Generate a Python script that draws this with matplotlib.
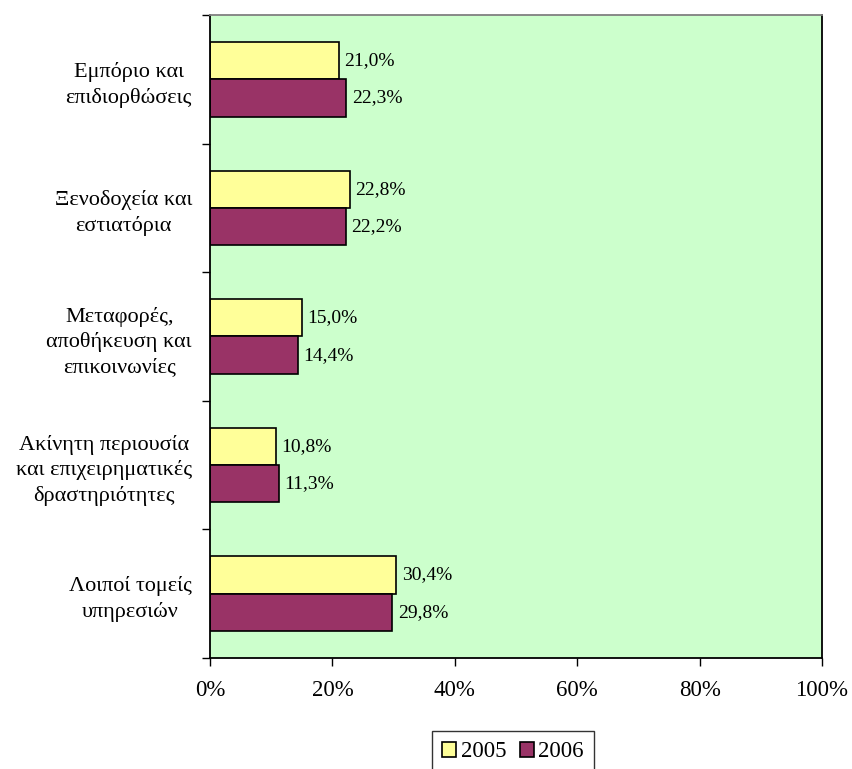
import matplotlib
matplotlib.use("Agg")
import matplotlib.pyplot as plt
import numpy as np
from matplotlib.ticker import FixedLocator, PercentFormatter

categories = [
    "Εμπόριο και\nεπιδιορθώσεις",
    "Ξενοδοχεία και\nεστιατόρια",
    "Μεταφορές,\nαποθήκευση και\nεπικοινωνίες",
    "Ακίνητη περιουσία\nκαι επιχειρηματικές\nδραστηριότητες",
    "Λοιποί τομείς\nυπηρεσιών",
]
series_names = ["2005", "2006"]
values_2005 = [21.0, 22.8, 15.0, 10.8, 30.4]
values_2006 = [22.3, 22.2, 14.4, 11.3, 29.8]
xticks = [0, 20, 40, 60, 80, 100]

plt.rcParams['font.family'] = ['Liberation Serif', 'DejaVu Serif']

W, H = 853, 769
fig = plt.figure(figsize=(W / 100, H / 100), dpi=100)
ax = fig.add_axes([210 / W, 1 - 658 / H, (822 - 210) / W, (658 - 15) / H])
ax.set_facecolor("#CCFFCC")

n = len(categories)
y = np.arange(n)
bh = 0.29
b1 = ax.barh(y - bh / 2, values_2005, height=bh, color="#FFFF99",
             edgecolor="black", linewidth=1.2, label=series_names[0])
b2 = ax.barh(y + bh / 2, values_2006, height=bh, color="#993366",
             edgecolor="black", linewidth=1.2, label=series_names[1])

for bars, vals in ((b1, values_2005), (b2, values_2006)):
    for rect, v in zip(bars, vals):
        ax.annotate(f"{v:.1f}%".replace(".", ","),
                    (rect.get_width(), rect.get_y() + rect.get_height() / 2),
                    xytext=(4, 0), textcoords="offset points",
                    ha="left", va="center", fontsize=14)

ax.set_xlim(0, 100)
ax.set_ylim(n - 0.5, -0.5)
ax.set_xticks(xticks)
ax.xaxis.set_major_formatter(PercentFormatter(decimals=0))
ax.set_yticks(y)
ax.set_yticklabels(categories, ha="right", multialignment="center",
                   linespacing=1.38)
ax.yaxis.set_minor_locator(FixedLocator(np.arange(-0.5, n, 1.0)))
ax.tick_params(axis="y", which="major", length=0, pad=13, labelsize=16)
ax.tick_params(axis="y", which="minor", length=6, width=1, direction="out")
ax.tick_params(axis="x", which="major", length=6, width=1, direction="out",
               labelsize=16.5, pad=10)

for s in ax.spines.values():
    s.set_linewidth(1.3)
ax.spines["top"].set_color("#808080")

fig.legend(handles=[b1, b2], labels=series_names, loc="upper center",
           bbox_to_anchor=(513 / W, 1 - 731 / H), ncol=2, fontsize=16.5,
           frameon=True, fancybox=False, edgecolor="black", handlelength=0.6,
           handleheight=0.6, handletextpad=0.2, columnspacing=0.6,
           borderpad=0.45, borderaxespad=0)

fig.savefig("out.png", dpi=100)
